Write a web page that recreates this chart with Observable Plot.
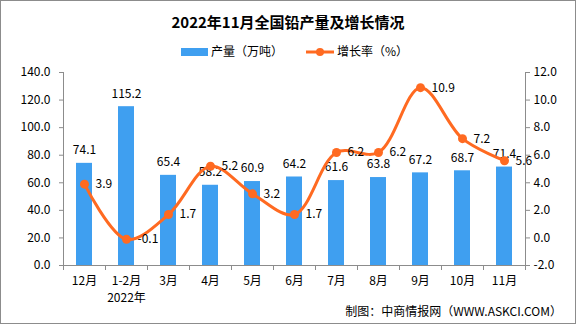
<!DOCTYPE html>
<html><head><meta charset="utf-8">
<script src="https://cdn.jsdelivr.net/npm/d3@7"></script>
<script src="https://cdn.jsdelivr.net/npm/@observablehq/plot@0.6"></script>
<style>
body{margin:0;background:#fff;}
#c{position:relative;width:576px;height:324px;background:#fff;font-family:"Noto Sans CJK SC",sans-serif;overflow:hidden;color:#000}
#frame{position:absolute;left:0;top:0;width:576px;height:324px;box-sizing:border-box;border:1px solid #8c8c8c;pointer-events:none}
#title{position:absolute;top:12px;left:0;width:576px;text-align:center;font-size:15px;line-height:20px;font-weight:bold}
.lg{position:absolute;font-size:12px;line-height:14px;top:44px}
#caption{position:absolute;right:14px;top:303px;font-size:12px;line-height:16px}
#plot{position:absolute;left:0;top:56px}
</style></head>
<body><div id="c">
<div id="title">2022年11月全国铅产量及增长情况</div>
<div class="lg" style="left:181px;top:48px;width:27px;height:8px;background:#3F9FF0"></div>
<div class="lg" style="left:211px">产量（万吨）</div>
<svg class="lg" style="left:305px;top:46px" width="30" height="12"><line x1="1" y1="6" x2="29" y2="6" stroke="#FF6A21" stroke-width="3"/><circle cx="15" cy="6" r="4" fill="#FF6A21"/></svg>
<div class="lg" style="left:337px">增长率（%）</div>
<div id="plot"></div>
<div id="caption">制图：中商情报网（WWW.ASKCI.COM）</div>
<div id="frame"></div>
</div>
<script>
const months = ["12月","1-2月","3月","4月","5月","6月","7月","8月","9月","10月","11月"];
const subLabels = ["","2022年","","","","","","","","",""];
const output = [74.1,115.2,65.4,58.2,60.9,64.2,61.6,63.8,67.2,68.7,71.4];
const growth = [3.9,-0.1,1.7,5.2,3.2,1.7,6.2,6.2,10.9,7.2,5.6];
const leftTicks = [0,20,40,60,80,100,120,140];
const rightTicks = [-2,0,2,4,6,8,10,12];

const BLUE = "#3F9FF0", ORANGE = "#FF6A21", AXIS = "#8c8c8c";
const lMin = 0, lMax = 140, rMin = -2, rMax = 12;
const toLeft = g => (g - rMin) * (lMax - lMin) / (rMax - rMin) + lMin;
const fromLeft = v => (v - lMin) * (rMax - rMin) / (lMax - lMin) + rMin;

const data = months.map((m, i) => ({m, v: output[i], g: growth[i], sub: subLabels[i]}));

const W = 576, H = 256, ML = 63, MR = 51, MT = 16, MB = 47;
const step = (W - ML - MR) / months.length;

const chart = Plot.plot({
  width: W, height: H,
  marginLeft: ML, marginRight: MR, marginTop: MT, marginBottom: MB,
  style: {fontFamily: '"Noto Sans CJK SC", sans-serif', fontSize: "12px", background: "transparent", color: "#000"},
  x: {domain: months, paddingInner: 0.62, paddingOuter: 0.31, label: null},
  y: {domain: [lMin, lMax], label: null},
  marks: [
    Plot.barY(data, {x: "m", y: "v", fill: BLUE}),
    Plot.ruleY([0], {stroke: AXIS}),
    Plot.ruleX([months[0]], {x: d => d, y1: lMin, y2: lMax, dx: -step / 2, stroke: AXIS}),
    Plot.ruleX([months[months.length - 1]], {x: d => d, y1: lMin, y2: lMax, dx: step / 2, stroke: AXIS}),
    Plot.ruleX(months, {x: d => d, y1: 0, y2: 0, insetBottom: -5, dx: -step / 2, stroke: AXIS}),
    Plot.ruleX([months[months.length - 1]], {x: d => d, y1: 0, y2: 0, insetBottom: -5, dx: step / 2, stroke: AXIS}),
    Plot.axisY({anchor: "left", ticks: leftTicks, tickFormat: d => d.toFixed(1), tickSize: 4, tickPadding: 9, stroke: AXIS, fill: "#000", label: null, fontSize: 12}),
    Plot.axisY({anchor: "right", ticks: rightTicks.map(toLeft), tickFormat: d => fromLeft(d).toFixed(1), tickSize: 4, tickPadding: 4, stroke: AXIS, fill: "#000", label: null, fontSize: 12}),
    Plot.axisX({tickSize: 0, tickPadding: 8, tickFormat: d => subLabels[months.indexOf(d)] ? d + "\n" + subLabels[months.indexOf(d)] : d, label: null, fill: "#000", fontSize: 12, lineHeight: 1.4}),
    Plot.text(data, {x: "m", y: "v", text: d => d.v.toFixed(1), dy: -13, fill: "#000", fontSize: 12}),
    Plot.line(data, {x: "m", y: d => toLeft(d.g), stroke: ORANGE, strokeWidth: 3, curve: "catmull-rom"}),
    Plot.dot(data, {x: "m", y: d => toLeft(d.g), r: 4.5, fill: ORANGE}),
    Plot.text(data, {x: "m", y: d => toLeft(d.g), text: d => d.g.toFixed(1), dx: 11, textAnchor: "start", fill: "#000", fontSize: 12})
  ]
});
document.getElementById("plot").appendChild(chart);
</script>
</body></html>
